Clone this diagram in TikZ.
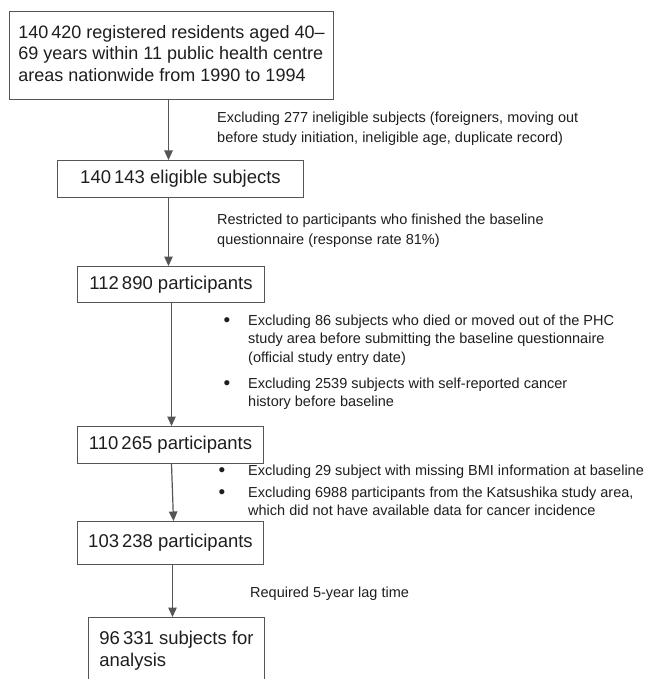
\documentclass[tikz,border=0pt]{standalone}
\usepackage{fontspec}
\setmainfont{Liberation Sans}
\usetikzlibrary{arrows.meta}
\definecolor{linecol}{HTML}{555555}
\definecolor{txtcol}{HTML}{1E1E1E}
\newcommand{\bigbul}{\raisebox{-1.6pt}{\fontsize{19}{18}\selectfont\textbullet}}
\begin{document}
\begin{tikzpicture}[x=1pt,y=-1pt,
 box/.style={draw=linecol, line width=1pt, text=txtcol, inner sep=0pt, anchor=north west,
   font=\fontsize{18.5}{21.5}\selectfont},
 arr/.style={draw=linecol, line width=1.2pt, -{Triangle[width=8.5pt,length=9.5pt]}},
 note/.style={inner sep=0pt, text=txtcol, anchor=north west, font=\fontsize{14.5}{20}\selectfont},
 bullets/.style={inner sep=0pt, text=txtcol, anchor=north west},
]
\useasboundingbox (0,0) rectangle (649,679);

\node[box, minimum width=324pt, minimum height=88pt, font=\fontsize{18}{21.5}\selectfont] (b1) at (9,11)
  {\begin{tabular}{@{}l@{}}140\,420 registered residents aged 40–\\69 years within 11 public health centre\\areas nationwide from 1990 to 1994\end{tabular}};
\node[box, minimum width=246pt, minimum height=37pt] (b2) at (57,160) {140\,143 eligible subjects};
\node[box, minimum width=187pt, minimum height=36pt] (b3) at (77,266) {112\,890 participants};
\node[box, minimum width=186pt, minimum height=37pt] (b4) at (77,426) {110\,265 participants};
\node[box, minimum width=186pt, minimum height=43pt] (b5) at (77,521) {103\,238 participants};
\node[box, minimum width=176pt, minimum height=67pt,
  font=\fontsize{18.5}{22}\selectfont] (b6) at (88,617) {\begin{tabular}{@{}l@{}}96\,331 subjects for\\analysis\end{tabular}};

\draw[arr] ([xshift=-3pt]b1.south) -- ([xshift=-12pt]b2.north);
\draw[arr] ([xshift=-12pt]b2.south) -- ([xshift=-2.5pt]b3.north);
\draw[arr] ([xshift=0.5pt]b3.south) -- ([xshift=1pt]b4.north);
\draw[arr] ([xshift=1pt]b4.south) -- ([xshift=3pt]b5.north);
\draw[arr] ([xshift=2pt]b5.south) -- ([xshift=-4pt]b6.north);

\node[note] (n1) at (217,108) {\begin{tabular}{@{}l@{}}Excluding 277 ineligible subjects (foreigners, moving out\\before study initiation, ineligible age, duplicate record)\end{tabular}};
\node[note] (n2) at (217,210) {\begin{tabular}{@{}l@{}}Restricted to participants who finished the baseline\\questionnaire (response rate 81\%)\end{tabular}};

\node[bullets, font=\fontsize{14.5}{18.5}\selectfont] (n3) at (223.5,312) {\begin{tabular}{@{}l@{}l@{}}
\makebox[24.5pt][l]{\bigbul} & Excluding 86 subjects who died or moved out of the PHC\\
 & study area before submitting the baseline questionnaire\\
 & (official study entry date)\\[7.5pt]
\makebox[24.5pt][l]{\bigbul} & Excluding 2539 subjects with self-reported cancer\\
 & history before baseline
\end{tabular}};

\node[bullets, font=\fontsize{14.5}{18}\selectfont] (n4) at (218.5,462.4) {\begin{tabular}{@{}l@{}l@{}}
\makebox[29.5pt][l]{\bigbul} & Excluding 29 subject with missing BMI information at baseline\\[4pt]
\makebox[29.5pt][l]{\bigbul} & Excluding 6988 participants from the Katsushika study area,\\
 & which did not have available data for cancer incidence
\end{tabular}};

\node[note, anchor=base west] (n5) at (250,597) {Required 5-year lag time};
\end{tikzpicture}
\end{document}
